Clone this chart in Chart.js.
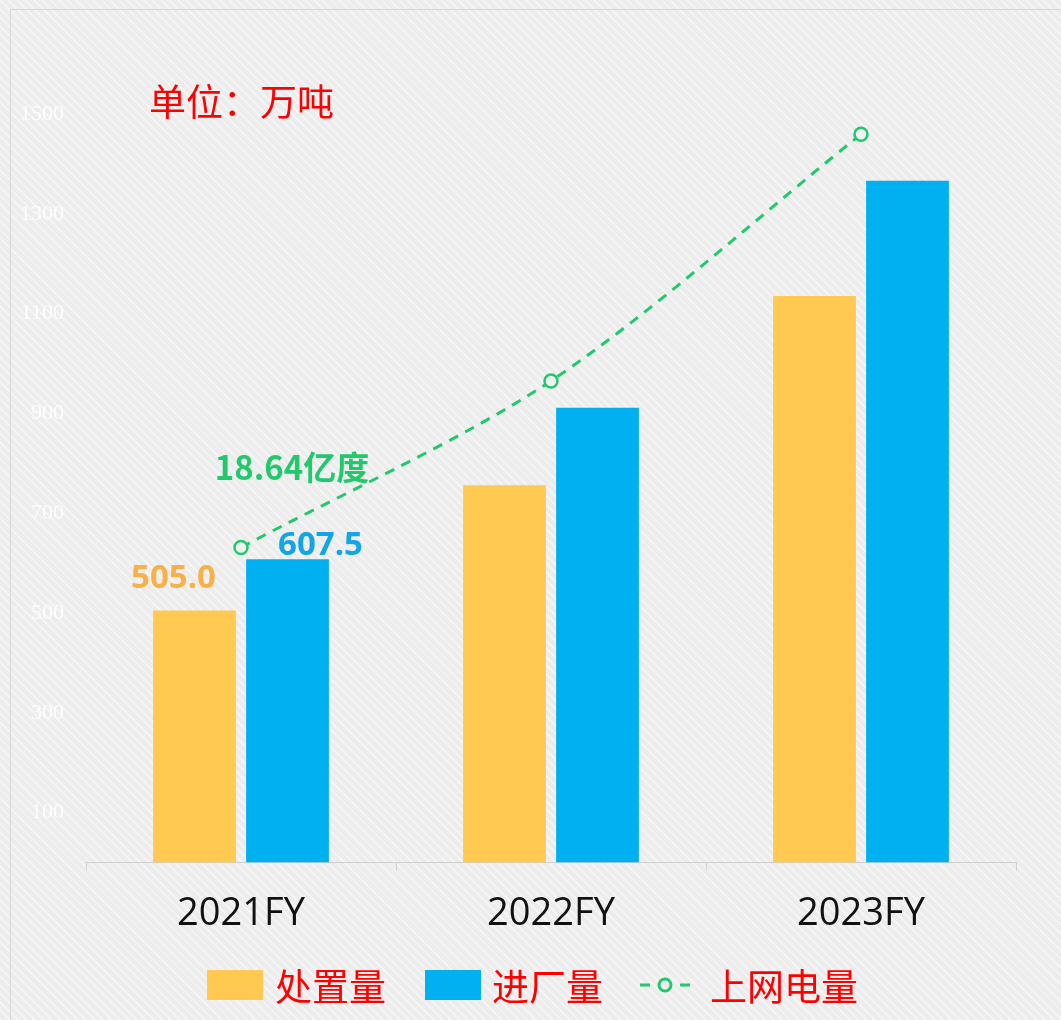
<!DOCTYPE html>
<html>
<head>
<meta charset="utf-8">
<script src="https://cdn.jsdelivr.net/npm/chart.js@4/dist/chart.umd.min.js"></script>
<style>
  html, body { margin: 0; padding: 0; }
  body {
    width: 1061px; height: 1020px; overflow: hidden; position: relative;
    background:
      repeating-linear-gradient(45deg, rgba(255,255,255,0.35) 0 2px, rgba(0,0,0,0.012) 2px 6px),
      #efefef;
  }
  #frame { position: absolute; left: 10px; top: 9px; width: 1060px; height: 1020px;
    border-left: 1px solid #d6d6d6; border-top: 1px solid #d6d6d6; }
  #wrap { position: absolute; left: 0; top: 0; width: 1061px; height: 1020px; }
  .ley { position: absolute; font-family: 'Noto Sans CJK SC', sans-serif; font-size: 37px;
    color: #FF0000; line-height: 40px; top: 965px; white-space: nowrap; }
  .caja { position: absolute; top: 970px; width: 56px; height: 30px; }
</style>
</head>
<body>
<div id="frame"></div>
<div id="wrap"><canvas id="myChart" width="1061" height="1020"></canvas></div>
<div id="leyenda"></div>
<script>
// datos
const categorias = ["2021FY", "2022FY", "2023FY"];
const chuZhiLiang = [505.0, 756, 1135];   // 处置量 (万吨)
const jinChangLiang = [607.5, 911, 1366]; // 进厂量 (万吨)
const shangWang = [18.64, 28.5, 43.1];     // 上网电量 (亿度)
const ticksIzq = [100, 300, 500, 700, 900, 1100, 1300, 1500];
const nombres = ["处置量", "进厂量", "上网电量"];

const amarillo = "#FFC952";
const azul = "#00B0F0";
const verde = "#21C96C";

// leyenda en html
function iconoLinea() {
  const c = document.createElement("canvas");
  c.width = 56; c.height = 30;
  const g = c.getContext("2d");
  g.strokeStyle = verde;
  g.lineWidth = 3;
  g.beginPath();
  g.moveTo(3, 15); g.lineTo(13, 15);
  g.moveTo(43, 15); g.lineTo(53, 15);
  g.stroke();
  g.beginPath();
  g.arc(28, 15, 6, 0, Math.PI * 2);
  g.stroke();
  return c;
}
const leyenda = document.getElementById("leyenda");
[[207, 275, amarillo], [425, 492, azul], [637, 710, null]].forEach(([xc, xt, color], i) => {
  let caja;
  if (color) {
    caja = document.createElement("div");
    caja.style.background = color;
  } else {
    caja = iconoLinea();
  }
  caja.className = "caja";
  caja.style.left = xc + "px";
  leyenda.appendChild(caja);
  const t = document.createElement("div");
  t.className = "ley";
  t.style.left = xt + "px";
  t.textContent = nombres[i];
  leyenda.appendChild(t);
});

// etiquetas solo del primer grupo
const etiquetas = {
  id: "etiquetas",
  afterDatasetsDraw(chart) {
    const ctx = chart.ctx;
    const b0 = chart.getDatasetMeta(0).data[0];
    const b1 = chart.getDatasetMeta(1).data[0];
    const p0 = chart.getDatasetMeta(2).data[0];
    ctx.save();
    ctx.textAlign = "center";
    ctx.textBaseline = "middle";
    ctx.font = "bold 33px 'Open Sans', 'Noto Sans CJK SC', sans-serif";
    ctx.fillStyle = "#F7B148";
    ctx.fillText(chuZhiLiang[0].toFixed(1), b0.x - 21, b0.y - 32);
    ctx.fillStyle = "#12A6E8";
    ctx.fillText(jinChangLiang[0].toFixed(1), b1.x + 33, b1.y - 14);
    ctx.font = "bold 33px 'Noto Sans CJK SC', sans-serif";
    ctx.fillStyle = verde;
    ctx.fillText(shangWang[0].toFixed(2) + "亿度", p0.x + 51, p0.y - 80);
    // unidad
    ctx.textAlign = "left";
    ctx.font = "37px 'Noto Sans CJK SC', sans-serif";
    ctx.fillStyle = "#FF0000";
    ctx.fillText("单位：万吨", 149, 102);
    ctx.restore();
  },
};

const ctx = document.getElementById("myChart").getContext("2d");
new Chart(ctx, {
  type: "bar",
  data: {
    labels: categorias,
    datasets: [
      {
        label: nombres[0],
        data: chuZhiLiang,
        backgroundColor: amarillo,
        categoryPercentage: 0.6,
        barPercentage: 0.89,
        order: 1,
      },
      {
        label: nombres[1],
        data: jinChangLiang,
        backgroundColor: azul,
        categoryPercentage: 0.6,
        barPercentage: 0.89,
        order: 1,
      },
      {
        type: "line",
        label: nombres[2],
        data: shangWang,
        yAxisID: "y1",
        borderColor: verde,
        borderWidth: 3,
        borderDash: [10, 8],
        tension: 0.3,
        pointRadius: 6.5,
        pointBorderWidth: 2.5,
        pointBackgroundColor: "#f1f1f1",
        pointBorderColor: verde,
        order: 0,
      },
    ],
  },
  options: {
    responsive: false,
    animation: false,
    devicePixelRatio: 1,
    layout: { padding: { left: 10, right: 45, top: 114, bottom: 62 } },
    plugins: {
      tooltip: { enabled: false },
      legend: { display: false },
    },
    scales: {
      x: {
        grid: { drawOnChartArea: false, color: "#cfcfcf", tickLength: 8, offset: true },
        border: { color: "#cfcfcf" },
        ticks: {
          color: "#111",
          padding: 21,
          font: { size: 38, family: "'Open Sans', 'Noto Sans', sans-serif" },
        },
      },
      y: {
        min: 0,
        max: 1500,
        grid: { display: false },
        border: { display: false },
        afterFit: (s) => { s.width = 76; },
        ticks: {
          stepSize: 100,
          padding: 14,
          color: "rgba(255,255,255,0.9)",
          font: { size: 22, family: "'Liberation Serif', serif" },
          callback: (v) => (ticksIzq.includes(v) ? v : ""),
        },
      },
      y1: {
        display: false,
        position: "right",
        min: 0,
        max: 44.3,
        grid: { display: false },
      },
    },
  },
  plugins: [etiquetas],
});
</script>
</body>
</html>
